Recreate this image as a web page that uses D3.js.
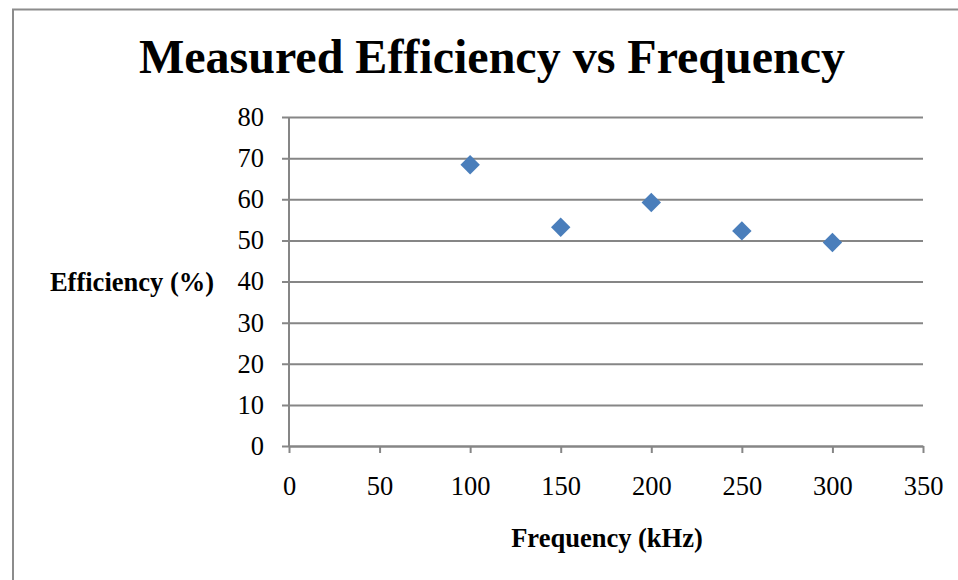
<!DOCTYPE html>
<html>
<head>
<meta charset="utf-8">
<script src="https://cdn.jsdelivr.net/npm/d3@7"></script>
<style>
  html, body { margin: 0; padding: 0; background: #fff; }
  svg { display: block; }
  text { font-family: "Liberation Serif", "Times New Roman", serif; fill: #000; }
</style>
</head>
<body>
<svg id="chart" width="958" height="580"></svg>
<script>
// Measured efficiency at each switching frequency
const frequencies = [100, 150, 200, 250, 300];
const efficiencies = [68.4, 53.2, 59.2, 52.3, 49.5];
const xTicks = [0, 50, 100, 150, 200, 250, 300, 350];
const yTicks = [0, 10, 20, 30, 40, 50, 60, 70, 80];

const svg = d3.select("#chart");
const W = 958, H = 580;
const plot = { left: 289, right: 923, top: 117, bottom: 446 };
const gridColor = "#868686";
const tickFont = 26.5;

// outer chart frame (runs off the right and bottom edges)
svg.append("rect")
  .attr("x", 13).attr("y", 9.5)
  .attr("width", W + 20).attr("height", H + 20)
  .attr("fill", "#fff").attr("stroke", "#8c8c8c").attr("stroke-width", 2);

const x = d3.scaleLinear().domain([0, 350]).range([plot.left, plot.right]);
const y = d3.scaleLinear().domain([0, 80]).range([plot.bottom, plot.top]);

// horizontal gridlines with short outward ticks
const yAxis = svg.append("g")
  .attr("transform", `translate(${plot.left},0)`)
  .call(d3.axisLeft(y).tickValues(yTicks).tickSize(-(plot.right - plot.left)).tickSizeOuter(0).tickPadding(25));
yAxis.select(".domain").remove();
yAxis.selectAll(".tick line")
  .attr("x1", -7)
  .attr("stroke", gridColor).attr("stroke-width", 2);
yAxis.selectAll(".tick text")
  .attr("font-size", tickFont).attr("font-family", "Liberation Serif").attr("fill", "#000");

// vertical axis line
svg.append("line")
  .attr("x1", plot.left).attr("x2", plot.left)
  .attr("y1", plot.top).attr("y2", plot.bottom)
  .attr("stroke", gridColor).attr("stroke-width", 2);

// bottom axis
const xAxis = svg.append("g")
  .attr("transform", `translate(0,${plot.bottom})`)
  .call(d3.axisBottom(x).tickValues(xTicks).tickSize(7).tickSizeOuter(0).tickPadding(23));
xAxis.select(".domain").attr("stroke", gridColor).attr("stroke-width", 2);
xAxis.selectAll(".tick line").attr("stroke", gridColor).attr("stroke-width", 2);
xAxis.selectAll(".tick text")
  .attr("font-size", tickFont).attr("font-family", "Liberation Serif").attr("fill", "#000");

// data markers
svg.append("g").selectAll("path")
  .data(frequencies.map((f, i) => ({ f, e: efficiencies[i] })))
  .join("path")
  .attr("d", d3.symbol(d3.symbolDiamond2, 240)())
  .attr("transform", d => `translate(${x(d.f)},${y(d.e)})`)
  .attr("fill", "#4A7EBB");

// titles
svg.append("text")
  .attr("x", 492).attr("y", 73)
  .attr("text-anchor", "middle")
  .attr("font-size", 48).attr("font-weight", "bold")
  .text("Measured Efficiency vs Frequency");

svg.append("text")
  .attr("x", 132).attr("y", 291)
  .attr("text-anchor", "middle")
  .attr("font-size", 26.5).attr("font-weight", "bold")
  .text("Efficiency (%)");

svg.append("text")
  .attr("x", 607).attr("y", 547)
  .attr("text-anchor", "middle")
  .attr("font-size", 26.5).attr("font-weight", "bold")
  .text("Frequency (kHz)");
</script>
</body>
</html>
